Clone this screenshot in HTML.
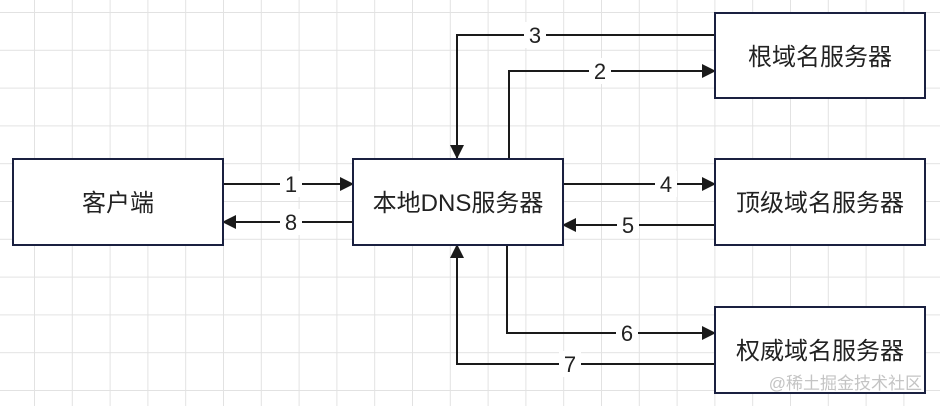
<!DOCTYPE html>
<html><head><meta charset="utf-8"><style>
html,body{margin:0;padding:0;background:#fff;}
svg{display:block;}
text{font-family:"Liberation Sans","Noto Sans CJK SC",sans-serif;fill:#222;}
</style></head><body>
<svg width="940" height="406" viewBox="0 0 940 406" xmlns="http://www.w3.org/2000/svg">
<defs>
<pattern id="g" x="-3.8" y="12" width="37.8" height="37.8" patternUnits="userSpaceOnUse">
<path d="M0 0H37.8M0 0V37.8" stroke="#e2e2e2" stroke-width="2" fill="none"/>
</pattern>
<marker id="a" markerWidth="10" markerHeight="10" refX="9" refY="5" orient="auto" markerUnits="userSpaceOnUse">
<path d="M0 0L10 5L0 10Z" fill="#1a1a1a"/>
</marker>
<marker id="b" markerWidth="14" markerHeight="14" refX="13" refY="7" orient="auto" markerUnits="userSpaceOnUse">
<path d="M0 0L14 7L0 14Z" fill="#1a1a1a"/>
</marker>
</defs>
<rect width="940" height="406" fill="#fff"/>
<rect width="940" height="406" fill="url(#g)"/>
<g stroke="#1a1a1a" stroke-width="2" fill="none">
<polyline points="715,35 457,35 457,158" marker-end="url(#b)"/>
<polyline points="509,158 509,71 715,71" marker-end="url(#b)"/>
<line x1="223" y1="184" x2="353" y2="184" marker-end="url(#b)"/>
<line x1="353" y1="222" x2="223" y2="222" marker-end="url(#b)"/>
<line x1="563" y1="184" x2="715" y2="184" marker-end="url(#b)"/>
<line x1="715" y1="225" x2="563" y2="225" marker-end="url(#b)"/>
<polyline points="507,245 507,333 715,333" marker-end="url(#b)"/>
<polyline points="715,364 457,364 457,245" marker-end="url(#b)"/>
</g>
<g fill="#fff" stroke="#1a2040" stroke-width="2">
<rect x="13" y="159" width="210" height="86"/>
<rect x="353" y="159" width="210" height="86"/>
<rect x="715" y="13" width="210" height="85"/>
<rect x="715" y="159" width="210" height="86"/>
<rect x="715" y="307" width="210" height="86"/>
</g>
<g font-size="24" text-anchor="middle">
<text x="118" y="211">客户端</text>
<text x="458" y="211">本地DNS服务器</text>
<text x="820" y="65">根域名服务器</text>
<text x="820" y="211">顶级域名服务器</text>
<text x="820" y="359">权威域名服务器</text>
</g>
<g font-size="22" text-anchor="middle">
<rect x="524" y="22" width="22" height="26" fill="#fff"/><text x="535" y="43">3</text>
<rect x="589" y="58" width="22" height="26" fill="#fff"/><text x="600" y="79">2</text>
<rect x="280" y="171" width="22" height="26" fill="#fff"/><text x="291" y="192">1</text>
<rect x="280" y="209" width="22" height="26" fill="#fff"/><text x="291" y="230">8</text>
<rect x="655" y="171" width="22" height="26" fill="#fff"/><text x="666" y="192">4</text>
<rect x="617" y="212" width="22" height="26" fill="#fff"/><text x="628" y="233">5</text>
<rect x="616" y="320" width="22" height="26" fill="#fff"/><text x="627" y="341">6</text>
<rect x="559" y="351" width="22" height="26" fill="#fff"/><text x="570" y="372">7</text>
</g>
<text x="922" y="389" font-size="17" text-anchor="end" style="fill:#c4c4c4">@稀土掘金技术社区</text>
</svg>
</body></html>
